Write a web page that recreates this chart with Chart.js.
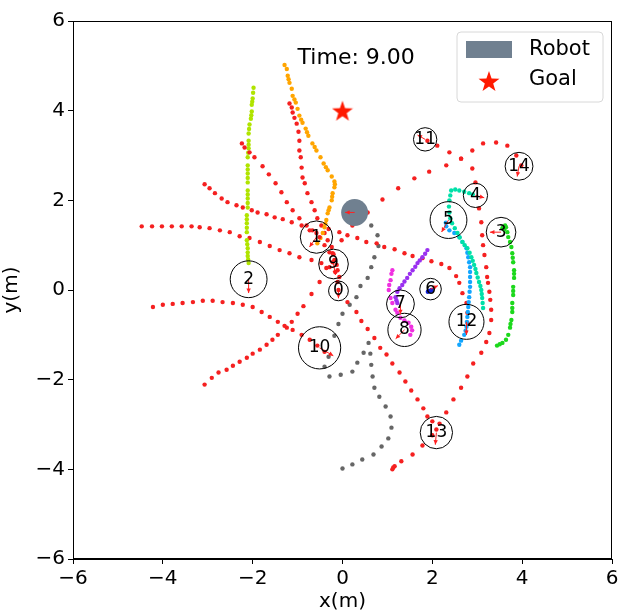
<!DOCTYPE html>
<html>
<head>
<meta charset="utf-8">
<script src="https://cdn.jsdelivr.net/npm/chart.js@4.4.1/dist/chart.umd.min.js"></script>
<style>
html, body { margin: 0; padding: 0; background: #fff; }
#wrap { width: 624px; height: 616px; }
</style>
</head>
<body>
<div id="wrap"><canvas id="crowdChart" width="624" height="616"></canvas></div>
<script>
// current state at t = 9.00 s
var timeLabel = 'Time: 9.00';
var axisTicks = [-6, -4, -2, 0, 2, 4, 6];

var humanIds = [0, 1, 2, 3, 4, 5, 6, 7, 8, 9, 10, 11, 12, 13, 14];
var humanX = [-0.09, -0.58, -2.09, 3.53, 2.96, 2.36, 1.96, 1.29, 1.38, -0.2, -0.51, 1.84, 2.76, 2.09, 3.93];
var humanY = [-0.02, 1.18, 0.24, 1.29, 2.11, 1.56, 0.02, -0.31, -0.89, 0.58, -1.29, 3.36, -0.71, -3.18, 2.76];
var humanR = [0.22, 0.36, 0.41, 0.33, 0.27, 0.41, 0.24, 0.31, 0.37, 0.33, 0.47, 0.26, 0.39, 0.36, 0.31];
var humanHeading = [-90, -125, -90, 180, -15, -120, 25, -90, -135, -80, -30, 150, -90, -95, -100];

var robotX = [0.27];
var robotY = [1.73];
var robotR = [0.3];
var robotHeading = [180];

var goalX = [0];
var goalY = [4];

// past positions of every agent
var traj0 = [[-2.24,3.27],[-2.18,3.18],[-2.07,3.07],[-1.96,2.96],[-1.78,2.76],[-1.64,2.58],[-1.49,2.38],[-1.36,2.18],[-1.24,1.96],[-1.11,1.78],[-0.96,1.6],[-0.8,1.44],[-0.67,1.33],[-0.51,1.18],[-0.4,1.0],[-0.29,0.84],[-0.22,0.62],[-0.16,0.4],[-0.11,0.18],[-0.09,0.0]];
var traj1 = [[-1.29,5.02],[-1.24,4.93],[-1.22,4.78],[-1.2,4.7],[-1.18,4.62],[-1.13,4.49],[-1.11,4.33],[-1.07,4.25],[-1.04,4.18],[-1.0,4.04],[-0.96,3.89],[-0.92,3.8],[-0.89,3.73],[-0.82,3.6],[-0.79,3.52],[-0.76,3.44],[-0.67,3.27],[-0.62,3.19],[-0.58,3.11],[-0.49,2.96],[-0.42,2.82],[-0.37,2.74],[-0.33,2.67],[-0.24,2.53],[-0.18,2.42],[-0.17,2.36],[-0.18,2.29],[-0.22,2.16],[-0.23,2.08],[-0.24,2.0],[-0.29,1.84],[-0.31,1.78],[-0.33,1.71],[-0.36,1.56],[-0.38,1.48],[-0.4,1.4],[-0.44,1.27],[-0.49,1.16],[-0.56,1.04]];
var traj2 = [[-1.98,4.51],[-1.99,4.4],[-2.0,4.27],[-2.01,4.2],[-2.02,4.13],[-2.02,3.98],[-2.03,3.9],[-2.04,3.82],[-2.07,3.69],[-2.08,3.59],[-2.09,3.49],[-2.09,3.33],[-2.09,3.24],[-2.09,3.16],[-2.1,3.06],[-2.11,2.96],[-2.11,2.78],[-2.11,2.69],[-2.11,2.6],[-2.11,2.5],[-2.11,2.4],[-2.11,2.22],[-2.11,2.13],[-2.11,2.04],[-2.11,1.94],[-2.11,1.84],[-2.13,1.67],[-2.13,1.58],[-2.13,1.49],[-2.13,1.39],[-2.13,1.29],[-2.13,1.11],[-2.12,1.02],[-2.11,0.93],[-2.11,0.84],[-2.11,0.76],[-2.1,0.68],[-2.09,0.6]];
var traj3 = [[3.44,-1.24],[3.5,-1.21],[3.56,-1.18],[3.64,-1.11],[3.69,-1.0],[3.73,-0.84],[3.74,-0.76],[3.76,-0.67],[3.78,-0.49],[3.78,-0.4],[3.78,-0.29],[3.8,-0.11],[3.8,-0.02],[3.8,0.07],[3.82,0.27],[3.82,0.36],[3.82,0.44],[3.8,0.62],[3.79,0.72],[3.78,0.82],[3.76,0.96],[3.73,1.07],[3.69,1.18],[3.67,1.29],[3.64,1.4],[3.62,1.44],[3.58,1.4],[3.56,1.38],[3.6,1.35]];
var traj4 = [[3.13,-0.4],[3.12,-0.29],[3.11,-0.18],[3.1,-0.09],[3.09,0.0],[3.07,0.09],[3.04,0.18],[3.01,0.28],[2.98,0.38],[2.96,0.47],[2.93,0.56],[2.9,0.65],[2.87,0.73],[2.83,0.83],[2.78,0.93],[2.72,1.0],[2.67,1.07],[2.61,1.17],[2.56,1.27],[2.5,1.38],[2.44,1.49],[2.4,1.6],[2.38,1.73],[2.37,1.86],[2.38,2.0],[2.4,2.11],[2.42,2.22],[2.51,2.24],[2.6,2.22],[2.71,2.19],[2.82,2.16],[2.9,2.13]];
var traj5 = [[2.6,-1.22],[2.64,-1.13],[2.71,-1.0],[2.74,-0.91],[2.76,-0.82],[2.77,-0.71],[2.78,-0.6],[2.79,-0.49],[2.8,-0.38],[2.81,-0.27],[2.82,-0.16],[2.83,-0.04],[2.84,0.07],[2.84,0.18],[2.84,0.29],[2.84,0.4],[2.84,0.51],[2.82,0.62],[2.8,0.73],[2.78,0.83],[2.76,0.93],[2.67,1.07],[2.6,1.18],[2.49,1.27],[2.38,1.33],[2.31,1.42],[2.3,1.5]];
var traj6 = [[1.9,-0.04],[1.93,-0.02],[1.96,-0.02],[1.98,0.0]];
var traj7 = [[1.89,0.89],[1.84,0.81],[1.78,0.73],[1.72,0.66],[1.67,0.6],[1.62,0.52],[1.56,0.44],[1.5,0.36],[1.44,0.27],[1.38,0.19],[1.33,0.11],[1.27,0.04],[1.22,-0.04],[1.18,-0.16],[1.2,-0.23],[1.22,-0.29]];
var traj8 = [[1.11,0.44],[1.09,0.36],[1.07,0.22],[1.04,0.11],[1.03,0.0],[1.07,-0.18],[1.11,-0.29],[1.18,-0.44],[1.22,-0.51],[1.29,-0.62],[1.38,-0.68],[1.47,-0.73],[1.53,-0.82],[1.55,-0.9],[1.51,-1.0]];
var traj9 = [[-4.47,1.42],[-4.24,1.42],[-4.02,1.42],[-3.8,1.42],[-3.58,1.42],[-3.36,1.42],[-3.18,1.4],[-2.96,1.38],[-2.73,1.33],[-2.51,1.29],[-2.29,1.2],[-2.07,1.16],[-1.84,1.07],[-1.62,0.98],[-1.4,0.89],[-1.18,0.82],[-0.96,0.73],[-0.69,0.67],[-0.47,0.6],[-0.29,0.51]];
var traj10 = [[-4.22,-0.38],[-4.0,-0.33],[-3.78,-0.31],[-3.56,-0.29],[-3.33,-0.27],[-3.11,-0.24],[-2.89,-0.24],[-2.67,-0.27],[-2.44,-0.29],[-2.22,-0.33],[-2.0,-0.38],[-1.8,-0.49],[-1.62,-0.6],[-1.44,-0.71],[-1.29,-0.8],[-1.11,-0.89],[-0.91,-1.0],[-0.73,-1.11],[-0.56,-1.24],[-0.4,-1.38]];
var traj11 = [[1.11,-4.0],[1.13,-3.96],[1.16,-3.93],[1.31,-3.82],[1.56,-3.67],[1.78,-3.47],[2.0,-3.24],[2.16,-2.98],[2.31,-2.73],[2.47,-2.44],[2.64,-2.18],[2.78,-1.93],[2.91,-1.64],[3.09,-1.4],[3.2,-1.16],[3.27,-0.96],[3.31,-0.67],[3.31,-0.44],[3.29,-0.22],[3.27,-0.04],[3.24,0.16],[3.22,0.29],[3.2,0.51],[3.16,0.78],[3.13,1.0],[3.11,1.22],[3.09,1.51],[3.04,1.82],[2.96,2.4],[2.89,2.71],[2.64,2.93],[2.38,3.07],[2.11,3.22],[1.89,3.33]];
var traj12 = [[-3.07,2.36],[-2.96,2.27],[-2.84,2.16],[-2.69,2.04],[-2.56,1.96],[-2.36,1.89],[-2.22,1.84],[-2.02,1.78],[-1.89,1.73],[-1.69,1.69],[-1.51,1.62],[-1.33,1.58],[-1.13,1.51],[-0.91,1.44],[-0.73,1.33],[-0.58,1.27],[-0.31,1.36],[-0.07,1.29],[0.11,1.22],[0.33,1.16],[0.53,1.07],[0.76,1.04],[0.93,0.96],[1.16,0.91],[1.38,0.82],[1.56,0.76],[1.78,0.71],[1.98,0.64],[2.2,0.58],[2.38,0.49],[2.53,0.31],[2.6,0.16],[2.67,-0.07],[2.76,-0.29],[2.78,-0.51],[2.78,-0.73]];
var traj13 = [[-1.18,4.16],[-1.13,4.07],[-1.11,3.96],[-1.07,3.84],[-1.02,3.71],[-0.98,3.53],[-0.96,3.33],[-0.96,3.11],[-0.93,2.96],[-0.91,2.73],[-0.89,2.51],[-0.84,2.38],[-0.78,2.16],[-0.69,1.96],[-0.62,1.78],[-0.56,1.6],[-0.47,1.44],[-0.4,1.27],[-0.33,1.11],[-0.24,0.96],[-0.22,0.82],[-0.18,0.67],[-0.13,0.56],[-0.11,0.44],[-0.07,0.29],[0.11,-0.27],[0.31,-0.49],[0.42,-0.69],[0.56,-0.87],[0.71,-1.07],[0.84,-1.29],[0.98,-1.44],[1.11,-1.64],[1.27,-1.84],[1.4,-2.04],[1.53,-2.24],[1.67,-2.44],[1.8,-2.64],[1.89,-2.82],[2.0,-2.93],[2.09,-3.11]];
var traj14 = [[-3.07,-2.11],[-2.91,-1.96],[-2.76,-1.84],[-2.58,-1.78],[-2.44,-1.69],[-2.29,-1.6],[-2.13,-1.51],[-2.0,-1.42],[-1.84,-1.33],[-1.69,-1.22],[-1.56,-1.11],[-1.44,-1.0],[-1.24,-0.84],[-1.13,-0.71],[-1.0,-0.53],[-0.87,-0.36],[-0.69,-0.09],[-0.51,0.18],[-0.36,0.49],[-0.2,0.8],[-0.02,1.11],[0.22,1.44],[0.56,1.73],[0.89,2.02],[1.24,2.27],[1.6,2.49],[1.93,2.64],[2.31,2.78],[2.64,2.93],[2.89,3.11],[3.13,3.27],[3.42,3.29],[3.67,3.22],[3.87,3.0],[3.98,2.78]];
var robotTraj = [[0.0,-3.98],[0.22,-3.89],[0.44,-3.78],[0.69,-3.67],[0.87,-3.49],[1.02,-3.31],[1.09,-3.07],[1.07,-2.82],[0.96,-2.6],[0.82,-2.38],[0.71,-2.18],[0.67,-1.93],[0.64,-1.67],[0.62,-1.42],[0.58,-1.18],[0.47,-1.4],[0.33,-1.62],[0.22,-1.82],[-0.04,-1.89],[-0.29,-1.93],[-0.4,-1.71],[-0.31,-1.49],[-0.18,-1.02],[-0.09,-0.76],[0.0,-0.53],[0.16,-0.33],[0.31,-0.16],[0.4,0.09],[0.56,0.27],[0.64,0.51],[0.71,0.73],[0.8,0.98],[0.78,1.22],[0.64,1.44]];

var humanTrajs = [traj0, traj1, traj2, traj3, traj4, traj5, traj6, traj7, traj8, traj9, traj10, traj11, traj12, traj13, traj14];
var humanColors = ['#f52020', '#ffa500', '#b0e400', '#1cd81c', '#00e0a8', '#12a6ff', '#1020d8', '#9a30f0', '#f030e0',
                   '#f52020', '#f52020', '#f52020', '#f52020', '#f52020', '#f52020'];
var robotColor = 'slategray';
var robotTrajColor = '#666666';
var goalColor = '#ff1a00';

var FONT = 'DejaVu Sans';

function toPoints(pairs) {
    return pairs.map(function (p) { return { x: p[0], y: p[1] }; });
}

function metersToPx(chart, m) {
    var s = chart.scales.x;
    return Math.abs(s.getPixelForValue(m) - s.getPixelForValue(0));
}

function makeStar(size, color) {
    var c = document.createElement('canvas');
    c.width = size; c.height = size;
    var g = c.getContext('2d');
    var cx = size / 2, cy = size / 2 + size * 0.05, ro = size / 2, ri = ro * 0.4;
    g.beginPath();
    for (var i = 0; i < 10; i++) {
        var r = i % 2 === 0 ? ro : ri;
        var a = -Math.PI / 2 + i * Math.PI / 5;
        var px = cx + r * Math.cos(a), py = cy + r * Math.sin(a);
        if (i === 0) g.moveTo(px, py); else g.lineTo(px, py);
    }
    g.closePath();
    g.fillStyle = color;
    g.fill();
    return c;
}
var starImg = makeStar(22, goalColor);

var datasets = [];
// human discs
datasets.push({
    label: 'humans',
    data: humanX.map(function (x, i) { return { x: x, y: humanY[i] }; }),
    pointStyle: 'circle',
    radius: function (ctx) { return metersToPx(ctx.chart, humanR[ctx.dataIndex]); },
    backgroundColor: 'rgba(0,0,0,0)',
    borderColor: '#000',
    borderWidth: 1
});
datasets.push({
    label: 'Robot',
    data: robotX.map(function (x, i) { return { x: x, y: robotY[i] }; }),
    pointStyle: 'circle',
    radius: function (ctx) { return metersToPx(ctx.chart, robotR[ctx.dataIndex]); },
    backgroundColor: robotColor,
    borderWidth: 0
});
datasets.push({
    label: 'Goal',
    data: goalX.map(function (x, i) { return { x: x, y: goalY[i] }; }),
    pointStyle: starImg,
    radius: 11
});
humanTrajs.forEach(function (t, i) {
    datasets.push({
        label: 'human ' + i,
        data: toPoints(t),
        pointStyle: 'circle',
        radius: 2.2,
        backgroundColor: humanColors[i],
        borderWidth: 0
    });
});
datasets.push({
    label: 'robot path',
    data: toPoints(robotTraj),
    pointStyle: 'circle',
    radius: 2.2,
    backgroundColor: robotTrajColor,
    borderWidth: 0
});

function drawArrow(ctx, x0, y0, len, deg) {
    var a = deg * Math.PI / 180;
    var x1 = x0 + len * Math.cos(a), y1 = y0 - len * Math.sin(a);
    ctx.beginPath();
    ctx.moveTo(x0, y0);
    ctx.lineTo(x1, y1);
    ctx.stroke();
    var h = 5;
    ctx.beginPath();
    ctx.moveTo(x1, y1);
    ctx.lineTo(x1 - h * Math.cos(a - 0.45), y1 + h * Math.sin(a - 0.45));
    ctx.lineTo(x1 - h * Math.cos(a + 0.45), y1 + h * Math.sin(a + 0.45));
    ctx.closePath();
    ctx.fill();
}

var sceneText = {
    id: 'sceneText',
    afterDatasetsDraw: function (chart) {
        var ctx = chart.ctx, sx = chart.scales.x, sy = chart.scales.y;
        ctx.save();
        // heading arrows
        ctx.strokeStyle = '#ff2020';
        ctx.fillStyle = '#ff2020';
        ctx.lineWidth = 1;
        humanIds.forEach(function (id, i) {
            drawArrow(ctx, sx.getPixelForValue(humanX[i]), sy.getPixelForValue(humanY[i]),
                metersToPx(chart, humanR[i]) * 0.75, humanHeading[i]);
        });
        robotX.forEach(function (x, i) {
            drawArrow(ctx, sx.getPixelForValue(x), sy.getPixelForValue(robotY[i]),
                metersToPx(chart, robotR[i]) * 0.7, robotHeading[i]);
        });
        // ids
        ctx.fillStyle = '#000';
        ctx.font = '17px "' + FONT + '"';
        ctx.textAlign = 'center';
        ctx.textBaseline = 'middle';
        humanIds.forEach(function (id, i) {
            ctx.fillText(String(id), sx.getPixelForValue(humanX[i]), sy.getPixelForValue(humanY[i]));
        });
        // time
        ctx.font = '22px "' + FONT + '"';
        ctx.textAlign = 'left';
        ctx.fillText(timeLabel, sx.getPixelForValue(-1.0), sy.getPixelForValue(5.16));
        ctx.restore();
    },
    afterDraw: function (chart) {
        var ctx = chart.ctx, a = chart.chartArea;
        ctx.save();
        // axes frame
        ctx.strokeStyle = '#000';
        ctx.lineWidth = 1;
        ctx.strokeRect(a.left + 0.5, a.top + 0.5, a.right - a.left - 1, a.bottom - a.top - 1);
        // legend box
        var w = 146, h = 70, x = a.right - 9 - w, y = a.top + 11;
        ctx.beginPath();
        ctx.roundRect(x, y, w, h, 4);
        ctx.fillStyle = 'rgba(255,255,255,0.8)';
        ctx.fill();
        ctx.strokeStyle = '#d8d8d8';
        ctx.stroke();
        ctx.fillStyle = robotColor;
        ctx.fillRect(x + 9, y + 9, 46, 17);
        ctx.drawImage(starImg, x + 32 - 11, y + 49 - 11);
        ctx.fillStyle = '#000';
        ctx.font = '21px "' + FONT + '"';
        ctx.textAlign = 'left';
        ctx.textBaseline = 'middle';
        ctx.fillText('Robot', x + 72, y + 18);
        ctx.fillText('Goal', x + 72, y + 48);
        ctx.restore();
    }
};

function tickFmt(v) { return v < 0 ? '\u2212' + Math.abs(v) : String(v); }

new Chart(document.getElementById('crowdChart').getContext('2d'), {
    type: 'scatter',
    data: { datasets: datasets },
    options: {
        responsive: false,
        animation: false,
        devicePixelRatio: 1,
        events: [],
        layout: { padding: { left: 0, right: 11, top: 21, bottom: 0 } },
        plugins: { legend: { display: false }, tooltip: { enabled: false } },
        scales: {
            x: {
                type: 'linear', min: -6, max: 6,
                afterBuildTicks: function (s) { s.ticks = axisTicks.map(function (v) { return { value: v }; }); },
                afterFit: function (s) { s.height = 57; },
                ticks: { callback: tickFmt, color: '#000', padding: 3, maxRotation: 0, font: { family: FONT, size: 20 } },
                grid: { drawOnChartArea: false, tickLength: 5, color: '#000' },
                border: { color: '#000' },
                title: { display: true, text: 'x(m)', color: '#000', padding: { top: 0, bottom: 2 }, font: { family: FONT, size: 20 } }
            },
            y: {
                type: 'linear', min: -6, max: 6,
                afterBuildTicks: function (s) { s.ticks = axisTicks.map(function (v) { return { value: v }; }); },
                afterFit: function (s) { s.width = 73; },
                ticks: { callback: tickFmt, color: '#000', padding: 3, font: { family: FONT, size: 20 } },
                grid: { drawOnChartArea: false, tickLength: 5, color: '#000' },
                border: { color: '#000' },
                title: { display: true, text: 'y(m)', color: '#000', padding: { top: 0, bottom: 1 }, font: { family: FONT, size: 20 } }
            }
        }
    },
    plugins: [sceneText]
});
</script>
</body>
</html>
